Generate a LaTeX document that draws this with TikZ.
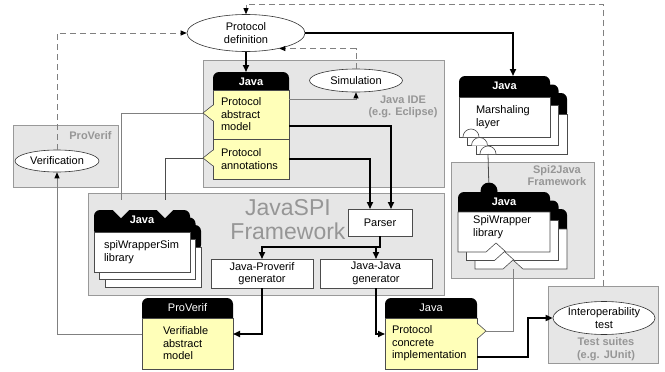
\documentclass[tikz,border=0pt]{standalone}
\usepackage{fontspec}
\setmainfont{Liberation Sans}
\usetikzlibrary{arrows.meta,shapes.geometric}

\definecolor{cardyellow}{RGB}{255,255,185}
\definecolor{panelgray}{RGB}{230,230,230}
\definecolor{labelgray}{RGB}{150,150,150}

\tikzset{
  panel/.style={draw=black!40, fill=panelgray, inner sep=0pt, outer sep=0pt},
  panellabel/.style={text=labelgray, font=\bfseries\fontsize{11}{12.5}\selectfont, align=center, inner sep=0pt},
  oval/.style={ellipse, draw=black!80, fill=white, inner sep=0pt, align=center, line width=0.6pt},
  plainbox/.style={draw=black!70, fill=white, inner sep=0pt, outer sep=0pt, align=center, line width=0.6pt},
  card/.style={draw=black!70, fill=cardyellow, inner ysep=0pt, outer sep=0pt, align=left, anchor=north west, line width=0.6pt},
  stackcard/.style={draw=black!70, fill=white, inner ysep=0pt, outer sep=0pt, align=left, anchor=north west, line width=0.6pt},
  stackbody/.style={draw=black!70, fill=white, line width=0.6pt},
  headbox/.style={fill=black, rounded corners=6pt, text=white, font=\bfseries\fontsize{11}{12.5}\selectfont,
    inner xsep=0pt, inner ysep=5pt, text height=8pt, text depth=8pt, anchor=north west, outer sep=0pt},
  flow/.style={line width=1.6pt, -{Triangle[length=7pt,width=6pt]}},
  graylink/.style={draw=black!50, line width=0.8pt, -{Triangle[length=6pt,width=5pt,color=black]}},
  thinline/.style={draw=black!50, line width=0.8pt},
  dashline/.style={draw=black!50, line width=0.8pt, dash pattern=on 6pt off 4pt, -{Triangle[length=6pt,width=5pt,color=black]}},
}

\begin{document}
\begin{tikzpicture}[x=1pt,y=-1pt,font=\fontsize{11}{12.5}\selectfont]
\useasboundingbox (0,0) rectangle (665,372);

% Gray panels
\node[panel, minimum width=241pt, minimum height=127pt] (javaide) at (323.5,123.5) {};
\node[panel, minimum width=356pt, minimum height=102pt] (javaspi) at (266,244) {};
\node[panel, minimum width=105pt, minimum height=62pt] (proverif) at (65.5,156) {};
\node[panel, minimum width=143pt, minimum height=116pt] (spi2java) at (522.5,220) {};
\node[panel, minimum width=110pt, minimum height=77pt] (tests) at (603,324.5) {};

% Panel labels
\node[panellabel] (idelabel) at (403,107) {Java IDE\\(e.g. Eclipse)};
\node[panellabel] (pvlabel) at (90.5,136) {ProVerif};
\node[panellabel] (s2jlabel) at (557,175.5) {Spi2Java\\Framework};
\node[panellabel] (tslabel) at (606,349) {Test suites\\(e.g. JUnit)};
\node[text=labelgray, font=\fontsize{23}{24}\selectfont, align=center, inner sep=0pt] (spilabel) at (288,220) {JavaSPI\\Framework};

% Ellipses
\node[oval, minimum width=118pt, minimum height=37pt] (pdef) at (246,33) {Protocol\\definition};
\node[oval, minimum width=93pt, minimum height=23pt] (sim) at (356,80.5) {Simulation};
\node[oval, minimum width=84pt, minimum height=22pt] (verif) at (57,161) {Verification};
\node[oval, minimum width=102pt, minimum height=33pt] (interop) at (604,318) {Interoperability\\test};

% Tool boxes
\node[plainbox, minimum width=64pt, minimum height=27pt] (parser) at (380,222.5) {Parser};
\node[plainbox, minimum width=102pt, minimum height=29pt] (jpgen) at (262,273.5) {Java-Proverif\\generator};
\node[plainbox, minimum width=112pt, minimum height=29pt] (jjgen) at (376,273.5) {Java-Java\\generator};

% Protocol abstract model + annotations
\node[headbox, minimum width=76pt] (pamhead) at (213,72) {Java};
\node[card, inner xsep=8pt, text width=60pt, minimum height=49pt] (pam) at (213,90) {Protocol\\abstract\\model};
\node[card, inner xsep=8pt, text width=60pt, minimum height=40pt] (pann) at (213,139) {Protocol\\annotations};
\fill[cardyellow] (214,105) -- (203,113) -- (214,121) -- cycle;
\draw[black!70, line width=0.6pt] (213,105) -- (203,113) -- (213,121);
\fill[cardyellow] (214,150) -- (203,158) -- (214,166) -- cycle;
\draw[black!70, line width=0.6pt] (213,150) -- (203,158) -- (213,166);
\coordinate (pamnotch) at (203,113);
\coordinate (pannnotch) at (203,158);

% Verifiable abstract model
\node[headbox, minimum width=91pt, font=\fontsize{11}{12.5}\selectfont] (vamhead) at (142,298) {ProVerif};
\node[card, inner xsep=21pt, text width=49pt, minimum height=51pt] (vam) at (142,318) {Verifiable\\abstract\\model};

% Protocol concrete implementation
\node[headbox, minimum width=92pt, font=\fontsize{11}{12.5}\selectfont] (pcihead) at (385,298) {Java};
\node[card, inner xsep=7pt, text width=78pt, minimum height=51pt] (pci) at (385,318) {Protocol\\concrete\\implementation};
\fill[cardyellow] (476,323) -- (486,331) -- (476,339) -- cycle;
\draw[black!70, line width=0.6pt] (477,323) -- (486,331) -- (477,339);
\coordinate (pcinotch) at (486,331);

% Marshaling layer stack
\foreach \o in {17,8.5} {
  \node[headbox, minimum width=91pt] at (459+\o,76+\o) {};
  \filldraw[stackbody] (459+\o,97+\o) rectangle (550+\o,137+\o);
  \draw[stackbody] (463+\o,137+\o) arc[start angle=180, end angle=0, radius=8pt];
}
\node[headbox, minimum width=91pt] (marshhead) at (459,76) {Java};
\node[stackcard, inner xsep=17pt, text width=57pt, minimum height=40pt] (marsh) at (459,97) {Marshaling\\layer};
\draw[stackbody] (463,137) arc[start angle=180, end angle=0, radius=8pt];
\coordinate (sock) at (488,154);

% SpiWrapper library stack
\node[circle, fill=black, minimum size=17pt, inner sep=0pt] (ball) at (489,191) {};
\foreach \o in {17,8.5} {
  \node[headbox, minimum width=92pt] at (458+\o,192+\o) {};
  \filldraw[stackbody] (458+\o,212+\o) -- (550+\o,212+\o) -- (550+\o,252+\o) -- (506+\o,252+\o)
    -- (496+\o,243+\o) -- (486+\o,252+\o) -- (458+\o,252+\o) -- cycle;
}
\node[headbox, minimum width=92pt] (spiwhead) at (458,192) {Java};
\filldraw[stackbody] (458,212) -- (550,212) -- (550,252) -- (506,252) -- (496,243) -- (486,252) -- (458,252) -- cycle;
\node[anchor=west, align=left, inner sep=0pt] (spiw) at (473,227) {SpiWrapper\\library};
\coordinate (spiwin) at (513,269);

% spiWrapperSim library stack
\foreach \o in {2,1} {
  \node[headbox, minimum width=96pt] at (94+5.5*\o,210+7.5*\o) {};
  \filldraw[stackbody] (94+5.5*\o,232+7.5*\o) rectangle (190+5.5*\o,272+7.5*\o);
}
\node[headbox, minimum width=96pt] (simhead) at (94,210) {Java};
\node[stackcard, inner xsep=10pt, text width=76pt, minimum height=40pt] (simlib) at (94,232) {spiWrapperSim\\library};
\fill[panelgray] (112,209) -- (121,218) -- (130,209) -- cycle;
\fill[panelgray] (156,209) -- (165,218) -- (174,209) -- cycle;
\coordinate (simin1) at (121,200);
\coordinate (simin2) at (165,200);

% Main flow
\draw[flow] (pdef.south) -- (pdef.south |- pamhead.north);
\draw[flow] (pdef.east) -| ([xshift=8.5pt]marshhead.north);
\draw[flow] ([yshift=-11.5pt]pam.east) -| ([xshift=11pt]parser.north);
\draw[flow] (pann.east) -| ([xshift=-10pt]parser.north);
\draw[flow] (parser.south) -- ++(0,11) -| (jpgen.north);
\draw[flow] (parser.south) -- ++(0,11) -| (jjgen.north);
\draw[flow] (jpgen.south) |- ([yshift=9.5pt]vam.east);
\draw[flow] (jjgen.south) |- ([yshift=9.5pt]pci.west);
\draw[flow] ([yshift=-13.5pt]pci.east) -- ++(51,0) |- (interop.west);

% Thin links
\draw[graylink] ([yshift=15.5pt]pam.east) -| (sim.south);
\draw[graylink] ([yshift=9.5pt]vam.west) -| (verif.south);
\draw[thinline] (pamnotch) -| (simin1);
\draw[thinline, draw=black!70] (pannnotch) -| (simin2);
\draw[thinline] (pcinotch) -| (spiwin);
\draw[thinline, draw=black!70] (sock) -- (ball);

% Feedback (dashed)
\draw[dashline] (verif.north) |- (pdef.west);
\draw[dashline] (sim.north) |- (pdef.-25);
\draw[dashline] (tests.north) -- (tests.north |- 0,4) -| (pdef.north);
\end{tikzpicture}
\end{document}
